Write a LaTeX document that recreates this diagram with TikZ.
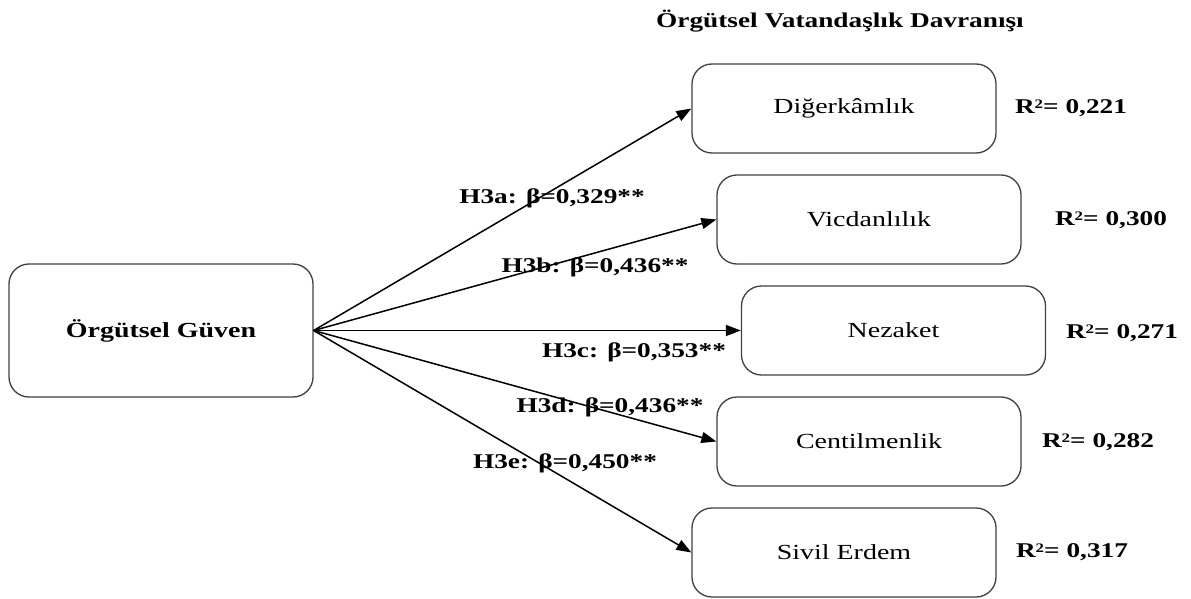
\documentclass[tikz,border=0pt]{standalone}
\usepackage{fontspec}
\setmainfont{Liberation Serif}[FakeStretch=1.3]
\usetikzlibrary{arrows.meta}
\newcommand{\rsq}{R\raisebox{5pt}{\fontsize{13}{13}\selectfont 2}}
\begin{document}
\begin{tikzpicture}[x=1pt,y=-1pt,
  box/.style={draw=black!75,line width=1.3pt,rounded corners=20pt,minimum width=304pt,minimum height=89pt,inner sep=0pt,font=\fontsize{21.5}{24}\selectfont},
  lbl/.style={font=\fontsize{21}{24}\selectfont\bfseries,inner sep=0pt},
  arr/.style={line width=1.5pt,-{Triangle[length=15pt,width=11pt]}}]
\useasboundingbox (0,0) rectangle (1191,599);
\node[box,minimum height=133pt] (g) at (161,330.5) {\bfseries Örgütsel Güven};
\node[box] (d) at (844,108.5) {Diğerkâmlık};
\node[box] (v) at (869,219.5) {Vicdanlılık};
\node[box] (n) at (893.5,330.5) {Nezaket};
\node[box] (c) at (869,441.5) {Centilmenlik};
\node[box] (s) at (844,552.5) {Sivil Erdem};
\node[lbl] (t) at (840,21) {Örgütsel Vatandaşlık Davranışı};
\draw[arr] (g.east) -- (d.west);
\draw[arr] (g.east) -- (v.west);
\draw[arr] (g.east) -- (n.west);
\draw[arr] (g.east) -- (c.west);
\draw[arr] (g.east) -- (s.west);
\node[lbl] (la) at (552,198) {H3a: β=0,329**};
\node[lbl] (lb) at (595,267) {H3b: β=0,436**};
\node[lbl] (lc) at (634,352) {H3c: β=0,353**};
\node[lbl] (ld) at (610,407) {H3d: β=0,436**};
\node[lbl] (le) at (565,463) {H3e: β=0,450**};
\node[lbl] (rd) at (1071,108) {\rsq= 0,221};
\node[lbl] (rv) at (1111,220) {\rsq= 0,300};
\node[lbl] (rn) at (1122,333) {\rsq= 0,271};
\node[lbl] (rc) at (1098,442) {\rsq= 0,282};
\node[lbl] (rs) at (1072,552) {\rsq= 0,317};
\end{tikzpicture}
\end{document}
